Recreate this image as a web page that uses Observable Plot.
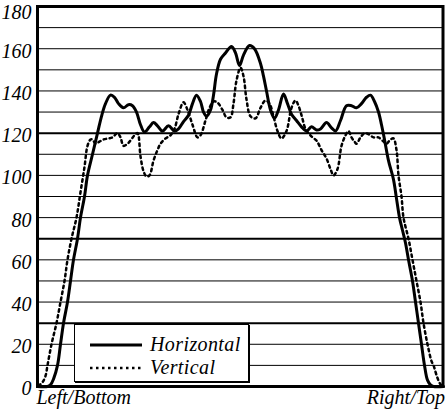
<!DOCTYPE html>
<html>
<head>
<meta charset="utf-8">
<script src="https://cdn.jsdelivr.net/npm/d3@7"></script>
<script src="https://cdn.jsdelivr.net/npm/@observablehq/plot@0.6"></script>
<style>
  html, body { margin: 0; padding: 0; background: #fff; }
  #wrap { position: relative; width: 446px; height: 411px; font-family: "Liberation Serif", "DejaVu Serif", serif; }
  #legend { position: absolute; left: 74px; top: 324px; width: 175px; height: 58px; background: #fff;
            border: 1px solid #000; box-shadow: 1px 1px 0 #000; box-sizing: border-box; }
</style>
</head>
<body>
<div id="wrap"></div>
<script>
// Positions across the profile (Left/Bottom -> Right/Top) and values
const horizPos = [37,47,50,53,57,60,63,67,70,73,77,80,84,87,92,97,101,105,110,114,118,123,128,132,136,140,144,149,153,157,162,168,174,178,183,188,192,196,200,203,206,210,213,216,220,225,231,235,239,243,249,254,260,263,266,270,274,278,283,287,291,296,301,306,311,316,320,326,331,335,340,346,351,356,361,366,370,374,378,381,384,388,393,396,399,402,405,408,412,415,418,421,424,427,430,433,443];
const horizVal = [0,0,0.8,3.5,10,20,30,40,50,60,70,80,90,100,110,120,128,134,138,137,134,132,133.5,133,130,124,120.5,123,125,123.5,121,123.5,121,122,125.5,128.5,134,138,135,130,128,131,138,148,155,158,161,158,152,157,161.5,160,153,147,140,131,127,131,138.5,134,129,126,123,121,123,121.5,122,125,122.5,121,126,133,133,132,134,137,138,135,130,124,117,107,98,89,80,74,68,60,50,40,30,20,10,3,0.8,0,0];

const vertPos = [38,42,45,47,51,56,60,64,67,71,76,80,84,87,90,92,95,99,103,108,112,117,120,123,127,130,134,137,140,143,146,149,153,157,160,165,170,174,178,183,187,192,197,200,205,209,213,217,222,226,230,233,236,240,243,246,250,255,260,265,269,273,277,281,286,291,295,298,301,305,308,312,316,321,326,330,333,337,341,345,348,351,354,356,360,364,368,373,378,383,386,390,393,396,398,401,403,408,412,416,420,423,427,431,433,437,440,442];
const vertVal = [0.3,2,5,10,20,30,40,50,60,70,80,92,104,114,117,117,115,116,117,117.5,118,120,118,114,115,116.5,119,120,109,102,99.5,100,107,112,115,117.5,119,122,129,134.6,131,124,118,119,126,132,135,134.5,131,127.5,127.5,134,145,151,147,136,128,127,132,135.5,134,128,121,117.5,121,132,135.5,133,128.5,122,120,118,116.5,112,108,103,100,103,114,119,121,118,116,115,118,120,119.5,118,118,116,115,117,117.5,112,100,90,80,70,60,50,40,30,20,12,10,4,1,0.3];

const yTicks = [0,20,40,60,80,100,120,140,160];
const yTopTick = [180];
const gridLines = [10,20,30,40,50,60,70,80,90,100,110,120,130,140,150,160,170];
const heavyGrid = [30,70,120];
const xLabels = ["Left/Bottom", "Right/Top"];
const seriesNames = ["Horizontal", "Vertical"];

const horiz = horizPos.map((p, i) => ({pos: p, val: horizVal[i]}));
const vert = vertPos.map((p, i) => ({pos: p, val: vertVal[i]}));

const font = "Liberation Serif";
const dotted = "2.5,3.5";
const labelStyle = {fontSize: 20, fontStyle: "italic", fontFamily: font, fill: "#000"};

const chart = Plot.plot({
  width: 446,
  height: 411,
  marginLeft: 37,
  marginRight: 3.5,
  marginTop: 6,
  marginBottom: 25,
  style: {fontFamily: font, background: "#fff", color: "#000", overflow: "visible"},
  x: {domain: [37, 442.5], axis: null},
  y: {domain: [0, 180], axis: null},
  marks: [
    Plot.ruleY(gridLines, {stroke: "#000", strokeWidth: d => heavyGrid.includes(d) ? 2 : 1}),
    Plot.line(vert, {x: "pos", y: "val", curve: "catmull-rom", stroke: "#000", strokeWidth: 2.5, strokeDasharray: dotted}),
    Plot.line(horiz, {x: "pos", y: "val", curve: "catmull-rom", stroke: "#000", strokeWidth: 3}),
    Plot.frame({stroke: "#000", strokeWidth: 3}),
    Plot.text(yTicks, {y: d => d, text: d => String(d), frameAnchor: "left", textAnchor: "end", dx: -6, dy: 2.5, ...labelStyle}),
    Plot.text(yTopTick, {y: d => d, text: d => String(d), frameAnchor: "left", textAnchor: "end", dx: -6, dy: 6, ...labelStyle}),
    Plot.text([xLabels[0]], {text: d => d, frameAnchor: "bottom-left", textAnchor: "start", lineAnchor: "top", dy: 3, dx: -1, ...labelStyle}),
    Plot.text([xLabels[1]], {text: d => d, frameAnchor: "bottom-right", textAnchor: "end", lineAnchor: "top", dy: 3, dx: 2, ...labelStyle})
  ]
});

const wrap = document.getElementById("wrap");
wrap.appendChild(chart);

// Legend overlay
const legend = document.createElement("div");
legend.id = "legend";
const ns = "http://www.w3.org/2000/svg";
const lsvg = document.createElementNS(ns, "svg");
lsvg.setAttribute("width", 173);
lsvg.setAttribute("height", 56);
seriesNames.forEach((name, i) => {
  const yy = 20 + i * 23;
  const ln = document.createElementNS(ns, "line");
  ln.setAttribute("x1", 15); ln.setAttribute("x2", 67);
  ln.setAttribute("y1", yy); ln.setAttribute("y2", yy);
  ln.setAttribute("stroke", "#000");
  ln.setAttribute("stroke-width", i === 0 ? 3 : 2.5);
  if (i === 1) ln.setAttribute("stroke-dasharray", dotted);
  lsvg.appendChild(ln);
  const t = document.createElementNS(ns, "text");
  t.setAttribute("x", 75); t.setAttribute("y", yy + 6);
  t.setAttribute("font-family", font);
  t.setAttribute("font-style", "italic");
  t.setAttribute("font-size", 20);
  t.setAttribute("letter-spacing", "0.4");
  t.textContent = name;
  lsvg.appendChild(t);
});
legend.appendChild(lsvg);
wrap.appendChild(legend);
</script>
</body>
</html>
